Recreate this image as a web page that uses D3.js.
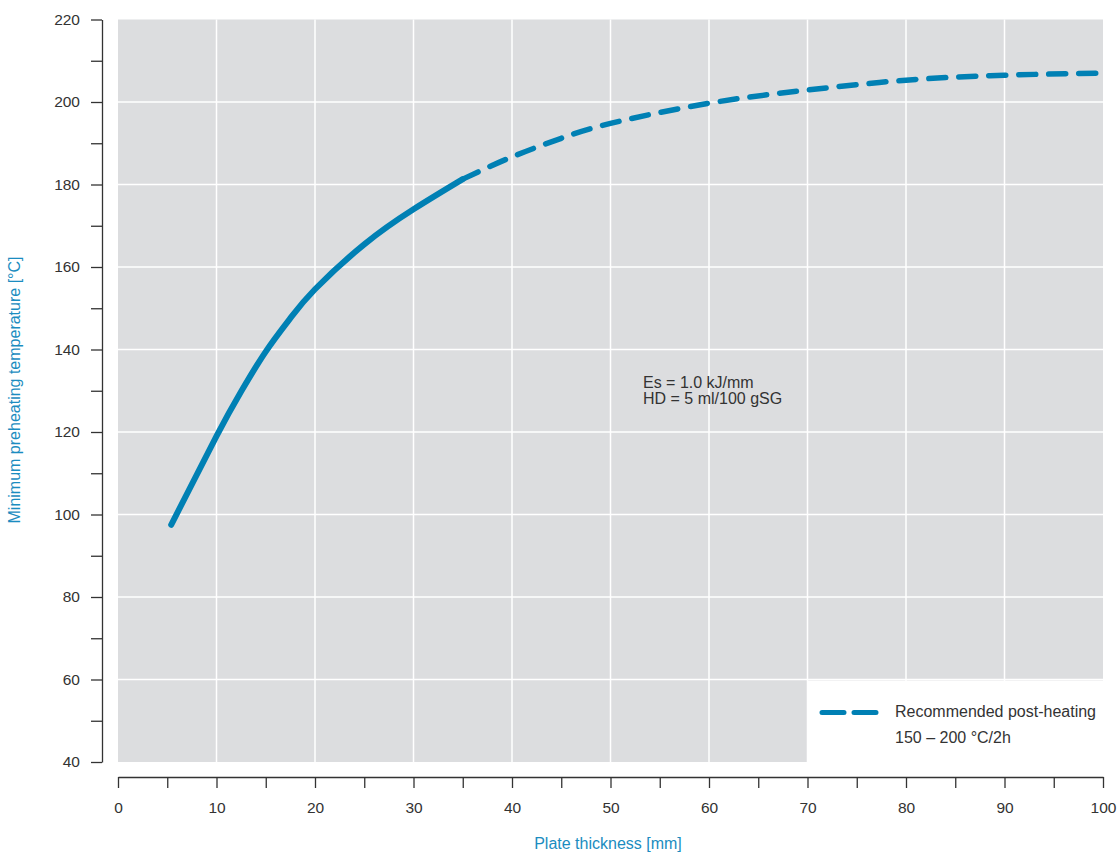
<!DOCTYPE html>
<html>
<head>
<meta charset="utf-8">
<script src="https://cdn.jsdelivr.net/npm/d3@7"></script>
<style>
  body { margin: 0; background: #fff; }
  svg { font-family: "Liberation Sans", Arial, Helvetica, sans-serif; }
</style>
</head>
<body>
<div id="chart"></div>
<script>
    // solid part of the curve
    var solidX = [5.4, 10, 12.5, 15, 17.5, 20, 25, 30, 35];
    var solidY = [97.5, 119, 129.8, 139.5, 147.6, 154.6, 165.5, 174, 181.3];
    // dashed continuation (recommended post-heating)
    var dashX = [35, 40, 45, 50, 60, 70, 80, 90, 100];
    var dashY = [181.3, 186.7, 191.2, 194.8, 199.7, 202.9, 205.3, 206.5, 207];

    var xTicks = [0, 5, 10, 15, 20, 25, 30, 35, 40, 45, 50, 55, 60, 65, 70, 75, 80, 85, 90, 95, 100];
    var yTicks = [40, 50, 60, 70, 80, 90, 100, 110, 120, 130, 140, 150, 160, 170, 180, 190, 200, 210, 220];
    var xLabels = [0, 10, 20, 30, 40, 50, 60, 70, 80, 90, 100];
    var yLabels = [40, 60, 80, 100, 120, 140, 160, 180, 200, 220];

    var noteLines = ["Es = 1.0 kJ/mm", "HD = 5 ml/100 gSG"];
    var legendLines = ["Recommended post-heating", "150 \u2013 200 \u00B0C/2h"];

    var blue = "#0080b4";
    var textCol = "#333";
    var titleCol = "#1b8cc0";

    var svg = d3.select("#chart")
                .append("svg")
                .attr("width", 1118)
                .attr("height", 852);

    var xScale = d3.scaleLinear().domain([0, 100]).range([118, 1103]);
    var yScale = d3.scaleLinear().domain([40, 220]).range([762, 19.5]);

    // gray plot background
    svg.append("rect")
       .attr("x", xScale(0))
       .attr("y", yScale(220))
       .attr("width", xScale(100) - xScale(0))
       .attr("height", yScale(40) - yScale(220))
       .attr("fill", "#dcdddf");

    // grid
    svg.append("g")
       .selectAll("line")
       .data(xLabels.filter(d => d > 0 && d < 100))
       .enter()
       .append("line")
       .attr("x1", d => xScale(d))
       .attr("x2", d => xScale(d))
       .attr("y1", yScale(220))
       .attr("y2", yScale(40))
       .attr("stroke", "#fff")
       .attr("stroke-width", 1.5);

    svg.append("g")
       .selectAll("line")
       .data(yLabels.filter(d => d > 40 && d < 220))
       .enter()
       .append("line")
       .attr("x1", xScale(0))
       .attr("x2", xScale(100))
       .attr("y1", d => yScale(d))
       .attr("y2", d => yScale(d))
       .attr("stroke", "#fff")
       .attr("stroke-width", 1.5);

    // white legend box cut out of plot area
    svg.append("rect")
       .attr("x", xScale(70))
       .attr("y", yScale(60) + 1)
       .attr("width", xScale(100) - xScale(70) + 1)
       .attr("height", yScale(40) - yScale(60))
       .attr("fill", "#fff");

    // axes
    var yAxis = svg.append("g")
       .attr("transform", "translate(102,0)")
       .call(d3.axisLeft(yScale)
               .tickValues(yTicks)
               .tickSize(11)
               .tickSizeOuter(0)
               .tickPadding(11)
               .tickFormat(d => yLabels.indexOf(d) >= 0 ? d : ""));

    var xAxis = svg.append("g")
       .attr("transform", "translate(0,777)")
       .call(d3.axisBottom(xScale)
               .tickValues(xTicks)
               .tickSize(11)
               .tickSizeOuter(0)
               .tickPadding(14)
               .tickFormat(d => xLabels.indexOf(d) >= 0 ? d : ""));

    [yAxis, xAxis].forEach(function(a) {
      a.select(".domain").attr("stroke", textCol).attr("stroke-width", 1.3);
      a.selectAll(".tick line").attr("stroke", textCol).attr("stroke-width", 1.3);
      a.selectAll(".tick text").attr("fill", textCol).style("font-size", "15.5px");
    });

    // curve
    var line = d3.line()
                 .x(d => xScale(d[0]))
                 .y(d => yScale(d[1]))
                 .curve(d3.curveNatural);

    svg.append("path")
       .datum(dashX.map((x, i) => [x, dashY[i]]))
       .attr("fill", "none")
       .attr("stroke", blue)
       .attr("stroke-width", 5.5)
       .attr("stroke-linecap", "round")
       .attr("stroke-dasharray", "17 13")
       .attr("d", line);

    svg.append("path")
       .datum(solidX.map((x, i) => [x, solidY[i]]))
       .attr("fill", "none")
       .attr("stroke", blue)
       .attr("stroke-width", 6)
       .attr("stroke-linecap", "round")
       .attr("d", line);

    // annotation
    svg.append("text")
       .attr("x", 643)
       .attr("y", 388)
       .attr("fill", textCol)
       .style("font-size", "16px")
       .selectAll("tspan")
       .data(noteLines)
       .enter()
       .append("tspan")
       .attr("x", 643)
       .attr("dy", (d, i) => i ? 16 : 0)
       .text(d => d);

    // legend
    svg.append("line")
       .attr("x1", 822)
       .attr("x2", 876)
       .attr("y1", 712.5)
       .attr("y2", 712.5)
       .attr("stroke", blue)
       .attr("stroke-width", 5)
       .attr("stroke-linecap", "round")
       .attr("stroke-dasharray", "22 10");

    svg.append("g")
       .selectAll("text")
       .data(legendLines)
       .enter()
       .append("text")
       .attr("x", 895)
       .attr("y", (d, i) => 717 + i * 25.5)
       .attr("fill", textCol)
       .style("font-size", "16px")
       .text(d => d);

    // axis titles
    svg.append("text")
       .attr("x", 608)
       .attr("y", 849)
       .attr("text-anchor", "middle")
       .attr("fill", titleCol)
       .style("font-size", "16px")
       .text("Plate thickness [mm]");

    svg.append("text")
       .attr("transform", "translate(20,390) rotate(-90)")
       .attr("text-anchor", "middle")
       .attr("fill", titleCol)
       .style("font-size", "16px")
       .text("Minimum preheating temperature [\u00B0C]");
</script>
</body>
</html>
